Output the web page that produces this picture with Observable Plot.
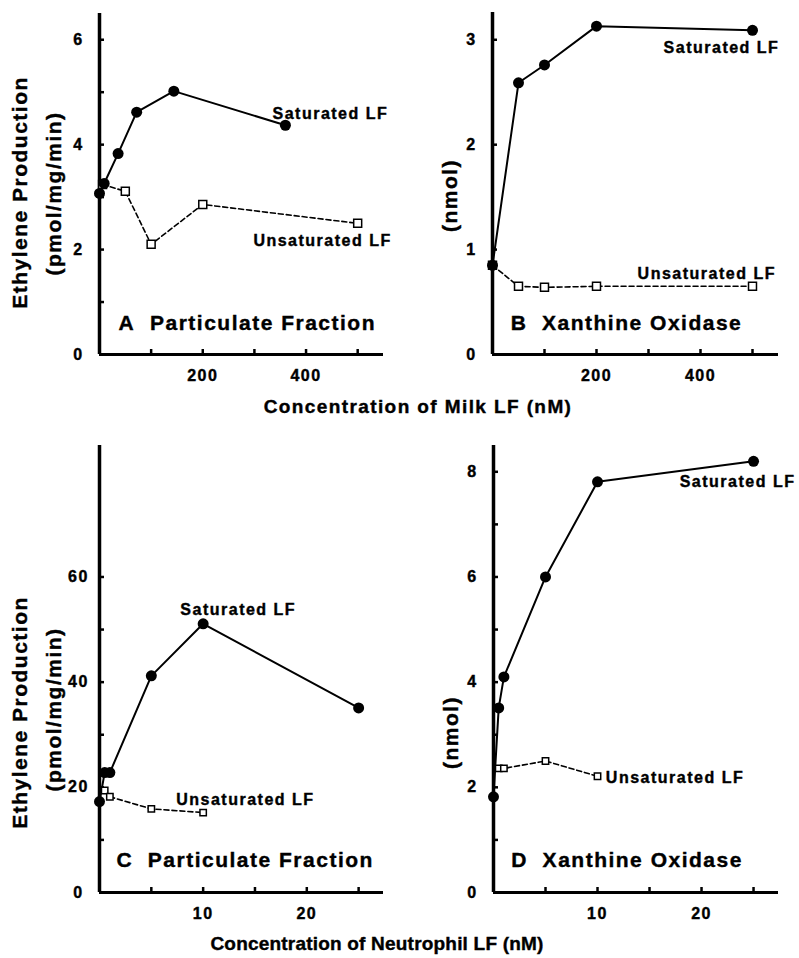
<!DOCTYPE html>
<html>
<head>
<meta charset="utf-8">
<script src="https://cdn.jsdelivr.net/npm/d3@7"></script>
<script src="https://cdn.jsdelivr.net/npm/@observablehq/plot@0.6"></script>
<style>
  body { margin: 0; background: #fff; }
  #fig { position: relative; width: 799px; height: 958px; overflow: hidden; background: #fff;
         font-family: "Liberation Sans", Arial, Helvetica, sans-serif; font-weight: bold; color: #000; }
  #fig svg text { stroke: #000; stroke-width: 0.4px; }
  .panel { position: absolute; }
  .xtitle { position: absolute; white-space: nowrap; font-size: 19px; line-height: 1; transform: translate(-50%, -50%);
            -webkit-text-stroke: 0.4px #000; }
</style>
</head>
<body>
<div id="fig"></div>
<script>
// ---------- Data ----------
// Panel A: Particulate fraction, milk LF (nM) -> ethylene (pmol/mg/min)
const milkA_saturated   = [[0, 3.07], [9, 3.26], [36, 3.83], [72, 4.62], [144, 5.02], [360, 4.37]];
const milkA_unsaturated = [[6, 3.24], [50, 3.11], [100, 2.1], [200, 2.86], [500, 2.5]];
// Panel B: Xanthine oxidase, milk LF (nM) -> ethylene (nmol)
const milkB_saturated   = [[0, 0.85], [50, 2.59], [100, 2.76], [200, 3.13], [500, 3.09]];
const milkB_unsaturated = [[0, 0.85], [50, 0.65], [100, 0.64], [200, 0.65], [500, 0.65]];
// Panel C: Particulate fraction, neutrophil LF (nM) -> ethylene (pmol/mg/min)
const neutC_saturated   = [[0, 17.3], [0.5, 22.8], [1, 22.8], [5, 41.2], [10, 51.1], [25, 35.1]];
const neutC_unsaturated = [[0.5, 19.4], [1, 18.2], [5, 15.9], [10, 15.2]];
// Panel D: Xanthine oxidase, neutrophil LF (nM) -> ethylene (nmol)
const neutD_saturated   = [[0, 1.82], [0.5, 3.51], [1, 4.1], [5, 6.0], [10, 7.81], [25, 8.2]];
const neutD_unsaturated = [[0.5, 2.36], [1, 2.36], [5, 2.5], [10, 2.21]];

// Tick values and labels
const milkXTicks = [100, 200, 300, 400, 500];
const milkXLabels = [200, 400];
const neutXTicks = [5, 10, 15, 20, 25];
const neutXLabels = [10, 20];
const aYTicks = [1, 2, 3, 4, 5, 6];       const aYLabels = [0, 2, 4, 6];
const bYTicks = [1, 2, 3];                const bYLabels = [0, 1, 2, 3];
const cYTicks = [10, 20, 30, 40, 50, 60]; const cYLabels = [0, 20, 40, 60];
const dYTicks = [1, 2, 3, 4, 5, 6, 7, 8]; const dYLabels = [0, 2, 4, 6, 8];

// Text
const titles = ["A\u00a0\u00a0Particulate Fraction", "B\u00a0\u00a0Xanthine Oxidase",
                "C\u00a0\u00a0Particulate Fraction", "D\u00a0\u00a0Xanthine Oxidase"];
const satLabel = "Saturated LF";
const unsatLabel = "Unsaturated LF";
const yTitleMain = "Ethylene Production";
const yUnitPmol = "(pmol/mg/min)";
const yUnitNmol = "(nmol)";
const xTitleMilk = "Concentration of Milk LF (nM)";
const xTitleNeut = "Concentration of Neutrophil LF (nM)";

// ---------- Drawing ----------
const FONT = '"Liberation Sans", Arial, Helvetica, sans-serif';
const px = d => d[0], py = d => d[1];
const intFmt = d => String(d);

function panel(o) {
  const marks = [
    Plot.ruleY([0], {stroke: "black", strokeWidth: 3}),
    Plot.ruleX([0], {stroke: "black", strokeWidth: 3.5}),
    Plot.ruleX(o.xTicks, {x: d => d, y1: 0, y2: 0, insetTop: -5, stroke: "black", strokeWidth: 2.5}),
    Plot.ruleY(o.yTicks, {y: d => d, x1: 0, x2: 0, insetRight: -5, stroke: "black", strokeWidth: 2.5}),
    Plot.axisX({ticks: o.xLabels, tickFormat: intFmt, tickSize: 0, tickPadding: 15, fontSize: 16, label: null}),
    Plot.axisY({ticks: o.yLabels, tickFormat: intFmt, tickSize: 0, tickPadding: 21, textAnchor: "middle", fontSize: 16, label: null}),
    Plot.line(o.unsat, {x: px, y: py, stroke: "black", strokeWidth: 1.6, strokeDasharray: "5,3"}),
    Plot.line(o.sat, {x: px, y: py, stroke: "black", strokeWidth: 2}),
    Plot.dot(o.unsat, {x: px, y: py, r: o.sqR, symbol: "square", fill: "white", stroke: "black", strokeWidth: 1.5}),
    Plot.dot(o.sat, {x: px, y: py, r: 5.5, fill: "black"}),
    Plot.text([satLabel], {x: o.satPos[0], y: o.satPos[1], text: d => d, textAnchor: "start", fontSize: 16}),
    Plot.text([unsatLabel], {x: o.unsatPos[0], y: o.unsatPos[1], text: d => d, textAnchor: "start", fontSize: 16}),
    Plot.text([o.title], {x: o.titlePos[0], y: o.titlePos[1], text: d => d, textAnchor: "start", fontSize: 21})
  ];
  for (const t of o.yTitles) {
    marks.push(Plot.text([t.text], {frameAnchor: "left", text: d => d, rotate: -90, textAnchor: "middle",
                                    dx: t.dx, dy: t.dy, fontSize: 21}));
  }
  const svg = Plot.plot({
    width: o.width, height: o.height,
    marginLeft: o.ml, marginRight: o.mr, marginTop: o.mt, marginBottom: o.mb,
    x: {domain: o.xDomain},
    y: {domain: o.yDomain},
    style: {fontFamily: FONT, fontWeight: "bold", letterSpacing: "1.5px", background: "white", color: "black", overflow: "visible", maxWidth: "none"},
    marks
  });
  const div = document.createElement("div");
  div.className = "panel";
  div.style.left = o.left + "px";
  div.style.top = o.top + "px";
  div.style.width = o.width + "px";
  div.appendChild(svg);
  return div;
}

const fig = document.getElementById("fig");

fig.appendChild(panel({
  left: 0, top: 0, width: 400, height: 400, ml: 99, mr: 17, mt: 13, mb: 46,
  xDomain: [0, 550], yDomain: [0, 6.5],
  xTicks: milkXTicks, xLabels: milkXLabels, yTicks: aYTicks, yLabels: aYLabels,
  sat: milkA_saturated, unsat: milkA_unsaturated, sqR: 4.5,
  satPos: [335, 4.59], unsatPos: [298, 2.17],
  title: titles[0], titlePos: [37, 0.59],
  yTitles: [{text: yTitleMain, dx: -79, dy: 8.5}, {text: yUnitPmol, dx: -45, dy: 9.5}]
}));

fig.appendChild(panel({
  left: 400, top: 0, width: 400, height: 400, ml: 92, mr: 22, mt: 12, mb: 46,
  xDomain: [0, 550], yDomain: [0, 3.26],
  xTicks: milkXTicks, xLabels: milkXLabels, yTicks: bYTicks, yLabels: bYLabels,
  sat: milkB_saturated, unsat: milkB_unsaturated, sqR: 4.5,
  satPos: [329, 2.92], unsatPos: [279, 0.77],
  title: titles[1], titlePos: [35, 0.295],
  yTitles: [{text: yUnitNmol, dx: -42, dy: 12}]
}));

fig.appendChild(panel({
  left: 0, top: 400, width: 400, height: 558, ml: 99, mr: 17, mt: 45, mb: 66,
  xDomain: [0, 27.4], yDomain: [0, 85],
  xTicks: neutXTicks, xLabels: neutXLabels, yTicks: cYTicks, yLabels: cYLabels,
  sat: neutC_saturated, unsat: neutC_unsaturated, sqR: 3.6,
  satPos: [7.8, 53.7], unsatPos: [7.4, 17.6],
  title: titles[2], titlePos: [1.64, 6.2],
  yTitles: [{text: yTitleMain, dx: -79, dy: 43.5}, {text: yUnitPmol, dx: -45, dy: 40.5}]
}));

fig.appendChild(panel({
  left: 400, top: 400, width: 400, height: 558, ml: 93, mr: 22, mt: 45, mb: 66,
  xDomain: [0, 27.4], yDomain: [0, 8.5],
  xTicks: neutXTicks, xLabels: neutXLabels, yTicks: dYTicks, yLabels: dYLabels,
  sat: neutD_saturated, unsat: neutD_unsaturated, sqR: 3.6,
  satPos: [17.9, 7.81], unsatPos: [10.8, 2.18],
  title: titles[3], titlePos: [1.71, 0.61],
  yTitles: [{text: yUnitNmol, dx: -42, dy: 63.5}]
}));

function xTitle(text, cx, cy, ls) {
  const d = document.createElement("div");
  d.className = "xtitle";
  d.textContent = text;
  d.style.left = cx + "px";
  d.style.top = cy + "px";
  d.style.letterSpacing = ls + "px";
  fig.appendChild(d);
}
xTitle(xTitleMilk, 418, 406, 1.4);
xTitle(xTitleNeut, 377, 943, 0.2);
</script>
</body>
</html>
